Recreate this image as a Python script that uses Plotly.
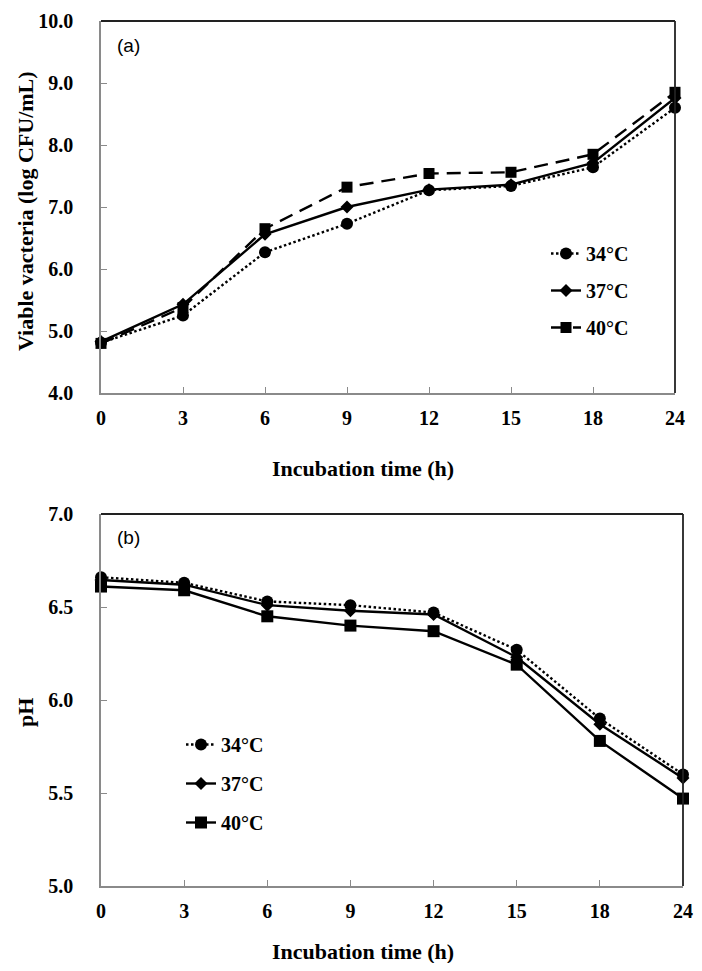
import plotly.graph_objects as go

# ---- data ----
hours = ["0", "3", "6", "9", "12", "15", "18", "24"]
series_names = ["34°C", "37°C", "40°C"]

viable_34 = [4.81, 5.25, 6.27, 6.73, 7.27, 7.34, 7.64, 8.60]
viable_37 = [4.83, 5.43, 6.56, 7.00, 7.28, 7.36, 7.71, 8.76]
viable_40 = [4.80, 5.38, 6.65, 7.32, 7.54, 7.56, 7.85, 8.85]

ph_34 = [6.66, 6.63, 6.53, 6.51, 6.47, 6.27, 5.90, 5.60]
ph_37 = [6.645, 6.62, 6.51, 6.48, 6.46, 6.23, 5.87, 5.58]
ph_40 = [6.61, 6.59, 6.45, 6.40, 6.37, 6.19, 5.78, 5.47]

# page is rendered with the default 8px body margin
OFF = 8
W, H = 702 - 2 * OFF, 971 - 2 * OFF
SERIF = "Liberation Serif"
GRAY = "#8a8a8a"
DOT = "2.5px,2.5px"
DASH = "14px,8px"

def px_x(p):
    return (p - OFF) / W

def px_y(p):
    return 1 - (p - OFF) / H

fig = go.Figure()

styles_top = [
    dict(dash=DOT, symbol="circle", size=12),
    dict(dash="solid", symbol="diamond", size=10),
    dict(dash=DASH, symbol="square", size=11),
]
styles_bot = [
    dict(dash=DOT, symbol="circle", size=12),
    dict(dash="solid", symbol="diamond", size=10),
    dict(dash="solid", symbol="square", size=12),
]

for name, vals, st in zip(series_names, [viable_34, viable_37, viable_40], styles_top):
    fig.add_trace(go.Scatter(
        x=hours, y=vals, name=name, mode="lines+markers",
        line=dict(color="black", width=2.4, dash=st["dash"]),
        marker=dict(color="black", symbol=st["symbol"], size=st["size"]),
        xaxis="x", yaxis="y", legend="legend", legendgroup="a" + name,
        cliponaxis=False,
    ))

for name, vals, st in zip(series_names, [ph_34, ph_37, ph_40], styles_bot):
    fig.add_trace(go.Scatter(
        x=hours, y=vals, name=name, mode="lines+markers",
        line=dict(color="black", width=2.4, dash=st["dash"]),
        marker=dict(color="black", symbol=st["symbol"], size=st["size"]),
        xaxis="x2", yaxis="y2", legend="legend2", legendgroup="b" + name,
        cliponaxis=False,
    ))

tickfont = dict(family=SERIF, size=20, color="black", weight="bold")

xcommon = dict(
    type="category", categoryorder="array", categoryarray=hours,
    range=[0, 7], showline=True, linecolor=GRAY, linewidth=1.5,
    ticks="inside", ticklen=6, tickcolor=GRAY, tickwidth=1,
    showgrid=False, zeroline=False, tickfont=tickfont,
    ticklabelstandoff=6,
)
ycommon = dict(
    showline=True, linecolor=GRAY, linewidth=1.5,
    ticks="inside", ticklen=6, tickcolor=GRAY, tickwidth=1,
    showgrid=False, zeroline=False, tickfont=tickfont,
    tickformat=".1f", ticklabelstandoff=22,
)

fig.update_layout(
    width=W, height=H,
    margin=dict(l=0, r=0, t=0, b=0, autoexpand=False),
    paper_bgcolor="white", plot_bgcolor="white",
    xaxis=dict(domain=[px_x(101), px_x(675)], anchor="y", **xcommon),
    yaxis=dict(domain=[px_y(393), px_y(21)], anchor="x", range=[4, 10], dtick=1, **ycommon),
    xaxis2=dict(domain=[px_x(101), px_x(683)], anchor="y2", **xcommon),
    yaxis2=dict(domain=[px_y(886), px_y(514)], anchor="x2", range=[5, 7], dtick=0.5, **ycommon),
    legend=dict(
        x=px_x(546), y=px_y(234), xanchor="left", yanchor="top",
        font=dict(family=SERIF, size=20, color="black", weight="bold"),
        bgcolor="rgba(0,0,0,0)", tracegroupgap=8, itemwidth=30,
    ),
    legend2=dict(
        x=px_x(181), y=px_y(725), xanchor="left", yanchor="top",
        font=dict(family=SERIF, size=20, color="black", weight="bold"),
        bgcolor="rgba(0,0,0,0)", tracegroupgap=10, itemwidth=30,
    ),
    showlegend=True,
)

# top and right frame lines (black)
for xr, yr in [("x domain", "y domain"), ("x2 domain", "y2 domain")]:
    fig.add_shape(type="line", xref=xr, yref=yr, x0=0, x1=1, y0=1, y1=1,
                  line=dict(color="#222222", width=1.8))
    fig.add_shape(type="line", xref=xr, yref=yr, x0=1, x1=1, y0=0, y1=1,
                  line=dict(color="#222222", width=1.8))

titlefont = dict(family=SERIF, size=22, color="black", weight="bold")
ann = [
    dict(text="(a)", x=px_x(115), y=px_y(45), xanchor="left", yanchor="middle",
         font=dict(family="Liberation Sans", size=19, color="black")),
    dict(text="(b)", x=px_x(115), y=px_y(537), xanchor="left", yanchor="middle",
         font=dict(family="Liberation Sans", size=19, color="black")),
    dict(text="Incubation time (h)", x=px_x(363), y=px_y(468), xanchor="center", yanchor="middle",
         font=titlefont),
    dict(text="Incubation time (h)", x=px_x(363), y=px_y(951), xanchor="center", yanchor="middle",
         font=titlefont),
    dict(text="Viable vacteria (log CFU/mL)", x=px_x(25), y=px_y(211), xanchor="center", yanchor="middle",
         textangle=-90, font=titlefont),
    dict(text="pH", x=px_x(25), y=px_y(713), xanchor="center", yanchor="middle",
         textangle=-90, font=titlefont),
]
for a in ann:
    fig.add_annotation(xref="paper", yref="paper", showarrow=False, **a)

fig.write_html("out.html")
